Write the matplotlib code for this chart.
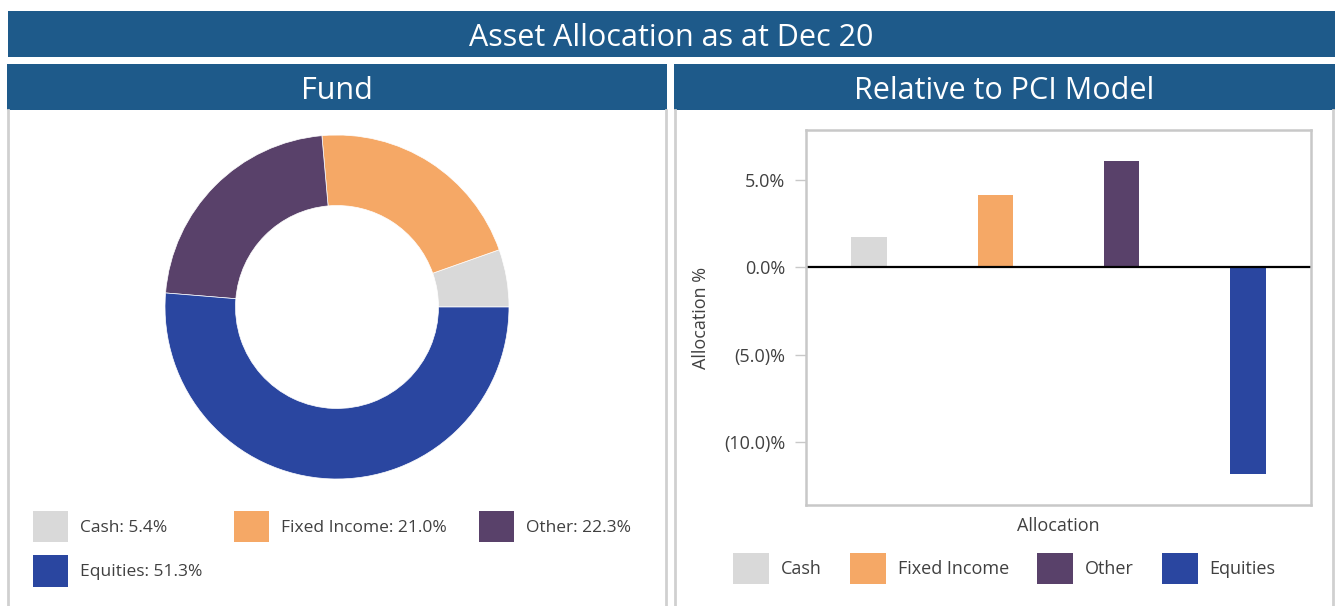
import matplotlib
matplotlib.use("Agg")
import matplotlib.pyplot as plt
from matplotlib.patches import Rectangle, Patch
from matplotlib.lines import Line2D

plt.rcParams['font.family'] = ['Open Sans', 'DejaVu Sans']

# data
categories = ['Cash', 'Fixed Income', 'Other', 'Equities']
fund_pct = [5.4, 21.0, 22.3, 51.3]
relative_pct = [1.75, 4.15, 6.1, -11.8]
colors = ['#D9D9D9', '#F5A866', '#59416A', '#2A46A0']
ytick_vals = [5, 0, -5, -10]
ytick_labels = ['5.0%', '0.0%', '(5.0)%', '(10.0)%']

W, H = 1337, 606
HEADER = '#1E5A8A'
BORDER = '#D0D0D0'
TXT = '#404040'

fig = plt.figure(figsize=(W / 100, H / 100), dpi=100)


def px_rect(x0, y0, x1, y1):
    # pixel box (top-down) -> figure fraction [left, bottom, width, height]
    return [x0 / W, 1 - y1 / H, (x1 - x0) / W, (y1 - y0) / H]


def band(x0, y0, x1, y1, text, size):
    l, b, w, h = px_rect(x0, y0, x1, y1)
    fig.patches.append(Rectangle((l, b), w, h, transform=fig.transFigure,
                                 facecolor=HEADER, edgecolor='none', zorder=0))
    # text sits a little low in the bands of the original
    fig.text(l + w / 2, b + h / 2 - 4 / H, text, color='white', fontsize=size,
             ha='center', va='center')


def vline(x, y0, y1):
    fig.lines.append(Line2D([x / W, x / W], [1 - y0 / H, 1 - y1 / H],
                            transform=fig.transFigure, color=BORDER, lw=2))


band(8, 11, 1335, 57, 'Asset Allocation as at Dec 20', 22)
band(7, 64, 667, 110, 'Fund', 22)
band(674, 64, 1335, 110, 'Relative to PCI Model', 22)
for x in (8, 666, 675, 1333):
    vline(x, 110, 606)

# donut
ax_pie = fig.add_axes(px_rect(165, 135, 509, 479))
ax_pie.pie(fund_pct, colors=colors, startangle=0, counterclock=True,
           wedgeprops=dict(width=0.41, edgecolor='white', linewidth=0.5))
ax_pie.set_xlim(-1, 1)
ax_pie.set_ylim(-1, 1)
ax_pie.set_aspect('equal')
ax_pie.axis('off')

# legend fills column by column, so reorder to read row by row
order = [0, 3, 1, 2]
fund_handles = [Patch(facecolor=colors[i], edgecolor='none') for i in order]
fund_labels = [f'{categories[i]}: {fund_pct[i]:.1f}%' for i in order]
fig.legend(fund_handles, fund_labels, loc='upper left',
           bbox_to_anchor=(33 / W, 1 - 511 / H), ncol=3, frameon=False,
           fontsize=12.5, handlelength=2.0, handleheight=2.4,
           handletextpad=0.7, columnspacing=1.85, labelspacing=0.75,
           borderpad=0, borderaxespad=0, labelcolor=TXT)

# relative bar chart
ax = fig.add_axes(px_rect(806, 130, 1311, 505))
x = range(len(categories))
ax.bar(x, relative_pct, width=0.28, color=colors)
ax.axhline(0, color='black', lw=1.6)
ax.set_xlim(-0.5, 3.5)
ax.set_ylim(-13.6, 7.85)
ax.set_xticks([])
ax.set_yticks(ytick_vals)
ax.set_yticklabels(ytick_labels)
ax.tick_params(axis='y', colors='#C8C8C8', labelcolor=TXT, labelsize=13,
               length=8, width=1.0, pad=7)
for s in ax.spines.values():
    s.set_color('#C8C8C8')
    s.set_linewidth(1.8)
ax.set_xlabel('Allocation', fontsize=13, color=TXT, labelpad=8.5)
ax.set_ylabel('Allocation %', fontsize=13, color=TXT)
ax.yaxis.set_label_coords(-0.19, 0.5)

rel_handles = [Patch(facecolor=c, edgecolor='none') for c in colors]
fig.legend(rel_handles, categories, loc='upper left',
           bbox_to_anchor=(733 / W, 1 - 553 / H), ncol=4, frameon=False,
           fontsize=13, handlelength=2.0, handleheight=2.3,
           handletextpad=0.65, columnspacing=1.55,
           borderpad=0, borderaxespad=0, labelcolor=TXT)

fig.savefig('out.png', dpi=100, facecolor='white')
